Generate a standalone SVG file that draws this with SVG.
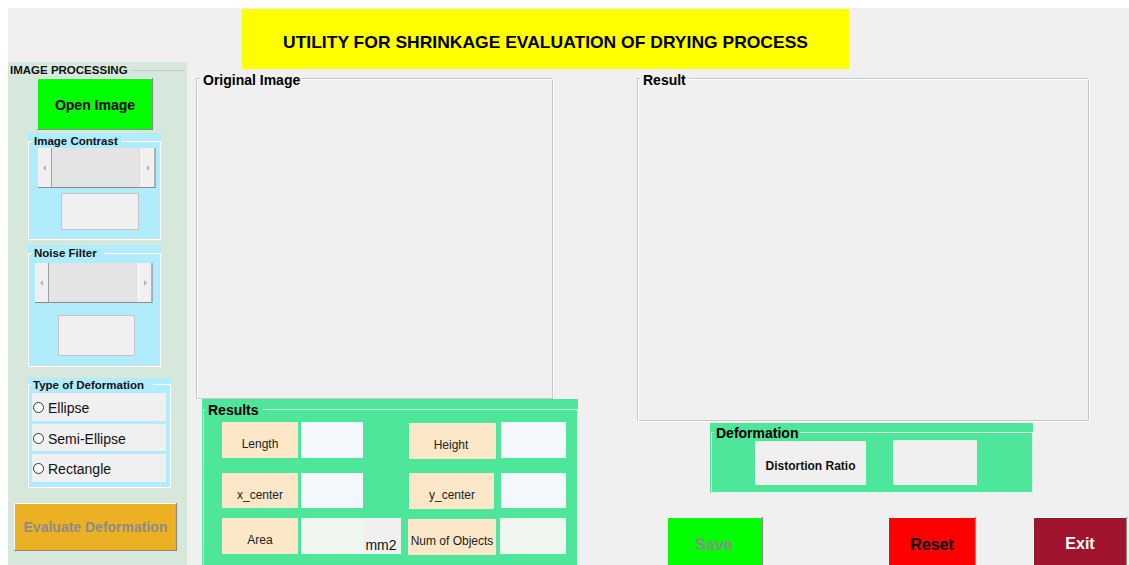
<svg xmlns="http://www.w3.org/2000/svg" width="1129" height="565" viewBox="0 0 1129 565">
<style>
  text { font-family: "Liberation Sans", Arial, sans-serif; }
  .b { font-weight: bold; }
  .gb { fill: none; stroke: #c8c8c8; stroke-width: 1; }
  .gbw { fill: none; stroke: #ffffff; stroke-width: 1; }
  .lbl { fill: #fce8c9; }
  .val { fill: #f4f7fc; }
  .val2 { fill: #eff5ef; }
  .edit { fill: #f0f0f0; stroke: #c4c4c4; stroke-width: 1; }
  .radio { fill: #f0f0f0; }
  .hl { stroke: #ffffff; stroke-width: 1; fill: none; }
  .sh { stroke: #8a8a8a; stroke-width: 1.2; fill: none; }
  .pt { font-size: 11.5px; fill: #111; }
</style>
<rect x="0" y="0" width="1129" height="565" fill="#ffffff"/>
<rect x="8" y="8" width="1121" height="557" fill="#f0f0f0"/>

<g id="title">
  <rect x="242" y="9" width="607" height="60" fill="#ffff00"/>
  <text x="283" y="48" class="b" font-size="17" textLength="525" lengthAdjust="spacingAndGlyphs" fill="#000">UTILITY FOR SHRINKAGE EVALUATION OF DRYING PROCESS</text>
</g>

<g id="image-processing">
  <rect x="8" y="62" width="179" height="503" fill="#d6e8dc"/>
  <line x1="131" y1="70.5" x2="185" y2="70.5" stroke="#c8c8c8"/>
  <text x="10" y="74" class="b pt">IMAGE PROCESSING</text>
</g>

<g id="open-image">
  <rect x="37" y="78" width="116" height="52" fill="#00ff00"/>
  <path d="M37.5 130 V78.5 H153" class="hl"/>
  <path d="M37 129.5 H152.5 V78" class="sh"/>
  <text x="95" y="110" class="b" font-size="14" text-anchor="middle" fill="#000">Open Image</text>
</g>

<g id="image-contrast">
  <rect x="28" y="133" width="133" height="107" fill="#b0ecfc"/>
  <rect x="28.5" y="141.5" width="132" height="98" class="gbw"/>
  <rect x="27.5" y="140.5" width="132" height="98" fill="none" stroke="#c8e4ec"/>
  <rect x="32" y="135" width="90" height="12" fill="#b0ecfc"/>
  <text x="34" y="145" class="b pt">Image Contrast</text>
  <rect x="38" y="148" width="117" height="40" fill="#e4e4e4"/>
  <rect x="38" y="148" width="13" height="40" fill="#f0f0f0"/>
  <rect x="142" y="148" width="13" height="40" fill="#f0f0f0"/>
  <line x1="51.5" y1="148" x2="51.5" y2="188" stroke="#a0a0a0"/>
  <line x1="141.5" y1="148" x2="141.5" y2="188" stroke="#ffffff"/>
  <path d="M38 187.5 H155 V148" class="sh"/>
  <polygon points="46,165 43,168 46,171" fill="#b8b8b8"/>
  <polygon points="147,165 150,168 147,171" fill="#b8b8b8"/>
  <rect x="61.5" y="193.5" width="77" height="36" class="edit"/>
</g>

<g id="noise-filter">
  <rect x="28" y="245" width="133" height="122" fill="#b0ecfc"/>
  <rect x="28.5" y="253.5" width="132" height="113" class="gbw"/>
  <rect x="27.5" y="252.5" width="132" height="113" fill="none" stroke="#c8e4ec"/>
  <rect x="32" y="247" width="72" height="12" fill="#b0ecfc"/>
  <text x="34" y="257" class="b pt">Noise Filter</text>
  <rect x="35" y="263" width="117" height="40" fill="#e4e4e4"/>
  <rect x="35" y="263" width="13" height="40" fill="#f0f0f0"/>
  <rect x="139" y="263" width="13" height="40" fill="#f0f0f0"/>
  <line x1="48.5" y1="263" x2="48.5" y2="303" stroke="#a0a0a0"/>
  <line x1="138.5" y1="263" x2="138.5" y2="303" stroke="#ffffff"/>
  <path d="M35 302.5 H152 V263" class="sh"/>
  <polygon points="43,280 40,283 43,286" fill="#b8b8b8"/>
  <polygon points="144,280 147,283 144,286" fill="#b8b8b8"/>
  <rect x="58.5" y="315.5" width="76" height="40" class="edit"/>
</g>

<g id="type-of-deformation">
  <rect x="27" y="378" width="144" height="109" fill="#b0ecfc"/>
  <rect x="27.5" y="383.5" width="142" height="103" fill="none" stroke="#c8e4ec"/>
  <rect x="28.5" y="384.5" width="142" height="103" class="gbw"/>
  <rect x="31" y="379" width="122" height="12" fill="#b0ecfc"/>
  <text x="33" y="389" class="b pt">Type of Deformation</text>
  <rect x="32" y="393" width="134" height="28" class="radio"/>
  <rect x="32" y="424" width="134" height="27" class="radio"/>
  <rect x="32" y="454" width="134" height="28" class="radio"/>
  <circle cx="38.5" cy="407.5" r="5" fill="#ffffff" stroke="#333" stroke-width="1"/>
  <circle cx="38.5" cy="438.5" r="5" fill="#ffffff" stroke="#333" stroke-width="1"/>
  <circle cx="38.5" cy="468.5" r="5" fill="#ffffff" stroke="#333" stroke-width="1"/>
  <text x="48" y="413" font-size="14" fill="#111">Ellipse</text>
  <text x="48" y="444" font-size="14" fill="#111">Semi-Ellipse</text>
  <text x="48" y="474" font-size="14" fill="#111">Rectangle</text>
</g>

<g id="evaluate-deformation">
  <rect x="14" y="503" width="163" height="48" fill="#ecb122"/>
  <path d="M14.5 551 V503.5 H177" class="hl"/>
  <path d="M14 550.5 H176.5 V503" class="sh"/>
  <text x="95.5" y="532" class="b" font-size="14" text-anchor="middle" fill="#8c8c8c">Evaluate Deformation</text>
</g>

<g id="original-image">
  <rect x="196.5" y="78.5" width="356" height="320" class="gb"/>
  <rect x="197.5" y="79.5" width="356" height="320" class="gbw"/>
  <rect x="200" y="72" width="101" height="14" fill="#f0f0f0"/>
  <text x="203" y="85" class="b" font-size="14" fill="#000">Original Image</text>
</g>

<g id="result">
  <rect x="637.5" y="78.5" width="451" height="342" class="gb"/>
  <rect x="638.5" y="79.5" width="451" height="342" class="gbw"/>
  <rect x="640" y="72" width="49" height="14" fill="#f0f0f0"/>
  <text x="643" y="85" class="b" font-size="14" fill="#000">Result</text>
</g>

<g id="results">
  <rect x="202" y="399" width="376" height="166" fill="#4ee69a"/>
  <path d="M203.5 565 V409.5 H577.5 V565" fill="none" stroke="#d8f8e6"/>
  <rect x="205" y="403" width="58" height="14" fill="#4ee69a"/>
  <text x="208" y="415" class="b" font-size="14" fill="#000">Results</text>
  <rect x="222" y="422" width="76" height="36" class="lbl"/>
  <rect x="301" y="422" width="62" height="36" class="val"/>
  <rect x="409" y="423" width="87" height="36" class="lbl"/>
  <rect x="501" y="422" width="65" height="36" class="val"/>
  <rect x="222" y="473" width="76" height="35" class="lbl"/>
  <rect x="301" y="473" width="62" height="35" class="val"/>
  <rect x="409" y="473" width="85" height="36" class="lbl"/>
  <rect x="501" y="473" width="65" height="35" class="val"/>
  <rect x="222" y="518" width="76" height="36" class="lbl"/>
  <rect x="301" y="518" width="62" height="36" class="val2"/>
  <rect x="363" y="518" width="38" height="36" fill="#f0f0f0"/>
  <rect x="408" y="519" width="88" height="36" class="lbl"/>
  <rect x="500" y="518" width="66" height="36" class="val2"/>
  <text x="260" y="448" font-size="12" text-anchor="middle" fill="#222">Length</text>
  <text x="451" y="449" font-size="12" text-anchor="middle" fill="#222">Height</text>
  <text x="260" y="499" font-size="12" text-anchor="middle" fill="#222">x_center</text>
  <text x="452" y="499" font-size="12" text-anchor="middle" fill="#222">y_center</text>
  <text x="260" y="544" font-size="12" text-anchor="middle" fill="#222">Area</text>
  <text x="452" y="545" font-size="12" text-anchor="middle" fill="#222">Num of Objects</text>
  <text x="381" y="550" font-size="14" text-anchor="middle" fill="#111">mm2</text>
</g>

<g id="deformation">
  <rect x="710" y="423" width="323" height="70" fill="#4ee69a"/>
  <path d="M711.5 493 V432.5 H1032.5 V492.5 H711" fill="none" stroke="#d8f8e6"/>
  <rect x="714" y="426" width="86" height="14" fill="#4ee69a"/>
  <text x="716" y="438" class="b" font-size="14" fill="#000">Deformation</text>
  <rect x="755" y="441" width="111" height="44" fill="#f0f0f0"/>
  <text x="810.5" y="470" class="b" font-size="12" text-anchor="middle" fill="#111">Distortion Ratio</text>
  <rect x="893" y="440" width="84" height="45" fill="#f0f0f0"/>
</g>

<g id="save">
  <rect x="667" y="517" width="96" height="48" fill="#00ff00"/>
  <path d="M667.5 565 V517.5 H763" class="hl"/>
  <line x1="762.5" y1="517" x2="762.5" y2="565" stroke="#8a8a8a" stroke-width="1.2"/>
  <text x="714" y="550" class="b" font-size="16" text-anchor="middle" fill="#8c8c8c">Save</text>
</g>

<g id="reset">
  <rect x="888" y="517" width="88" height="48" fill="#ff0000"/>
  <path d="M888.5 565 V517.5 H976" class="hl"/>
  <line x1="975.5" y1="517" x2="975.5" y2="565" stroke="#8a8a8a" stroke-width="1.2"/>
  <text x="932" y="550" class="b" font-size="16" text-anchor="middle" fill="#000">Reset</text>
</g>

<g id="exit">
  <rect x="1033" y="517" width="94" height="48" fill="#a0142e"/>
  <path d="M1033.5 565 V517.5 H1127" class="hl"/>
  <line x1="1126.5" y1="517" x2="1126.5" y2="565" stroke="#8a8a8a" stroke-width="1.2"/>
  <text x="1080" y="549" class="b" font-size="16" text-anchor="middle" fill="#ffffff">Exit</text>
</g>
</svg>
